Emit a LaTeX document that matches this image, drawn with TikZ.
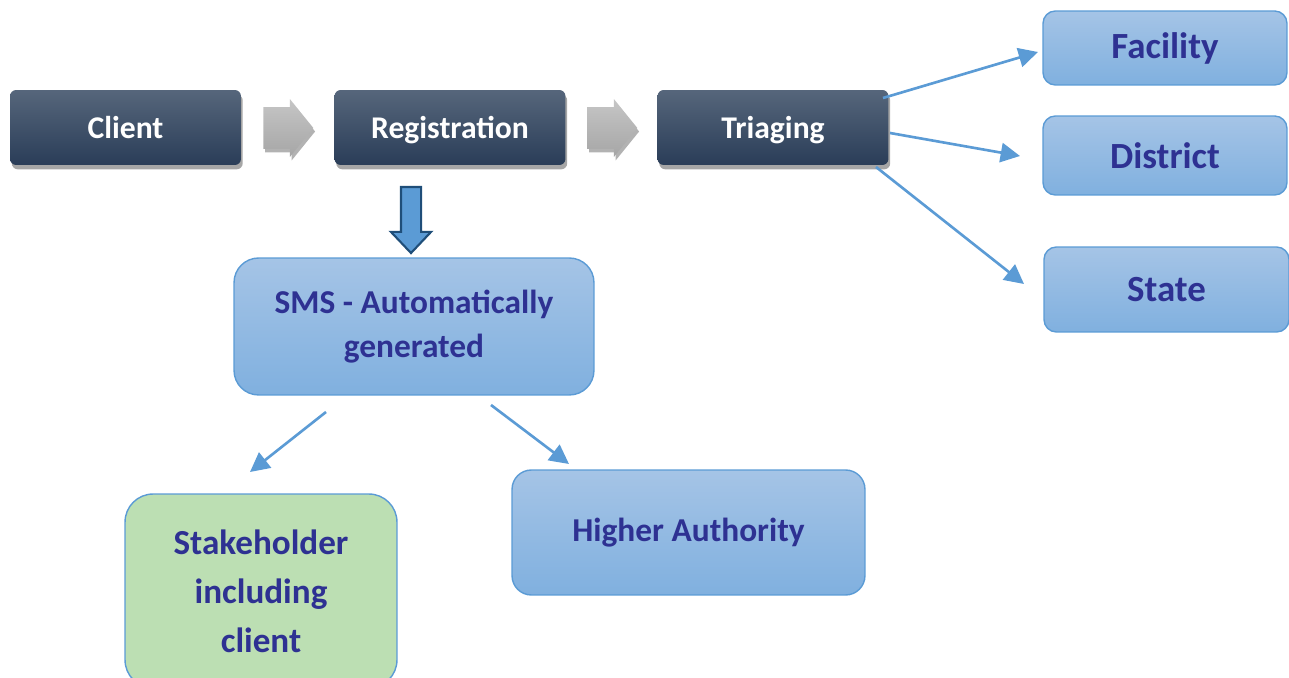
\documentclass[tikz,border=0pt]{standalone}
\usepackage{fontspec}
\setmainfont{Carlito}
\usetikzlibrary{shapes.arrows,shadows,arrows.meta}
\definecolor{navy}{HTML}{2E3192}
\definecolor{darktop}{HTML}{56667B}
\definecolor{darkbot}{HTML}{2A3D58}
\definecolor{lighttop}{HTML}{A5C4E6}
\definecolor{lightbot}{HTML}{80B0DF}
\definecolor{boxline}{HTML}{5B9BD5}
\definecolor{lineblue}{HTML}{5B9BD5}
\definecolor{downline}{HTML}{1F4E79}
\definecolor{leaf}{HTML}{BCDFB3}
\begin{document}
\begin{tikzpicture}[x=0.02cm, y=-0.02cm,
	dark/.style={rectangle, rounded corners=3.5pt, minimum width=4.62cm, minimum height=1.5cm, inner sep=0pt, text height=12pt, text depth=0pt, top color=darktop, bottom color=darkbot, text=white, font=\bfseries\fontsize{18}{22}\selectfont, drop shadow={shadow xshift=1pt, shadow yshift=-2.5pt, opacity=0.35, fill=black}},
	light/.style={rectangle, draw=boxline, line width=0.8pt, inner sep=0pt, top color=lighttop, bottom color=lightbot, text=navy, align=center},
	blockarrow/.style={single arrow, single arrow head extend=0.16cm, single arrow tip angle=102, inner xsep=0pt, inner ysep=0.41cm, minimum height=1cm, top color=gray!45, bottom color=gray!70, anchor=tail, drop shadow={shadow xshift=1pt, shadow yshift=-2pt, opacity=0.3, fill=black}},
	conn/.style={draw=lineblue, line width=1.5pt, -{Triangle[length=11pt, width=11pt]}}]
	\clip (0, 0) rectangle (1289, 678);
	\node[dark] (0) at (125.5, 127.5) {Client};
	\node[dark] (1) at (450, 127.5) {Registration};
	\node[dark] (2) at (773, 127.5) {Triaging};
	\node[blockarrow] (3) at (263, 128) {};
	\node[blockarrow] (4) at (587, 128) {};
	\node[single arrow, rotate=-90, single arrow head extend=0.2cm, single arrow tip angle=87, inner xsep=0pt, inner ysep=0.18cm, minimum height=1.32cm, fill=lineblue, draw=downline, line width=1.2pt, anchor=tail] (5) at (411, 186) {};
	\node[light, rounded corners=14pt, minimum width=7.2cm, minimum height=2.74cm, font=\bfseries\fontsize{19}{25.5}\selectfont] (6) at (414, 326.5) {SMS - Automatically\\generated};
	\node[light, rounded corners=16pt, minimum width=5.44cm, minimum height=3.88cm, top color=leaf, bottom color=leaf, font=\bfseries\fontsize{20}{27.8}\selectfont] (7) at (261, 591) {Stakeholder\\including\\client};
	\node[light, rounded corners=11pt, minimum width=7.06cm, minimum height=2.5cm, font=\bfseries\fontsize{19}{23}\selectfont] (8) at (688.5, 532.5) {Higher Authority};
	\node[light, rounded corners=7pt, minimum width=4.88cm, minimum height=1.48cm, font=\bfseries\fontsize{21}{25}\selectfont] (9) at (1165, 48) {Facility};
	\node[light, rounded corners=7pt, minimum width=4.88cm, minimum height=1.58cm, font=\bfseries\fontsize{21}{25}\selectfont] (10) at (1165, 155.5) {District};
	\node[light, rounded corners=7pt, minimum width=4.9cm, minimum height=1.7cm, font=\bfseries\fontsize{21}{25}\selectfont] (11) at (1166.5, 289.5) {State};
	\coordinate (12) at (883, 98);
	\coordinate (13) at (1038, 52);
	\coordinate (14) at (890, 133);
	\coordinate (15) at (1020, 156);
	\coordinate (16) at (876, 167);
	\coordinate (17) at (1024, 284);
	\coordinate (18) at (326, 412);
	\coordinate (19) at (250, 472);
	\coordinate (20) at (491, 405);
	\coordinate (21) at (569, 464);
	\draw[conn] (12) to (13);
	\draw[conn] (14) to (15);
	\draw[conn] (16) to (17);
	\draw[conn] (18) to (19);
	\draw[conn] (20) to (21);
\end{tikzpicture}
\end{document}
